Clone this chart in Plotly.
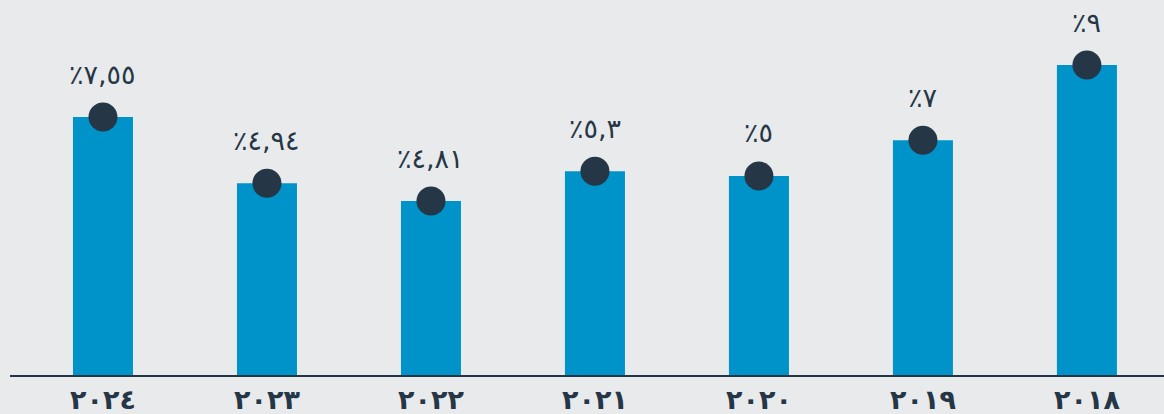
import plotly.graph_objects as go

years = ["2024", "2023", "2022", "2021", "2020", "2019", "2018"]
year_labels = ["٢٠٢٤", "٢٠٢٣", "٢٠٢٢", "٢٠٢١", "٢٠٢٠", "٢٠١٩", "٢٠١٨"]
value_labels = ["٪٧,٥٥", "٪٤,٩٤", "٪٤,٨١", "٪٥,٣", "٪٥", "٪٧", "٪٩"]
# bar heights as drawn in the reference (not proportional to the labels)
bar_heights = [7.49, 5.57, 5.05, 5.92, 5.78, 6.82, 9.0]

BAR = "#0093c9"
DARK = "#253746"
BG = "#e9eaec"
FONT = "DejaVu Sans"

fig = go.Figure()
fig.add_trace(go.Bar(
    x=years, y=bar_heights, marker=dict(color=BAR, line=dict(width=0)),
    width=0.366, hoverinfo="skip",
))
fig.add_trace(go.Scatter(
    x=years, y=bar_heights, mode="markers",
    marker=dict(size=29, color=DARK, line=dict(width=0)),
    hoverinfo="skip", cliponaxis=False,
))
for i, (y, t) in enumerate(zip(bar_heights, value_labels)):
    fig.add_annotation(x=i, y=y, xref="x", yref="y", text=t, showarrow=False,
                       yshift=43, yanchor="middle", xanchor="center",
                       font=dict(family=FONT, size=27, color=DARK))

fig.update_layout(
    width=1164, height=414,
    margin=dict(l=10, r=0, t=0, b=39),
    paper_bgcolor=BG, plot_bgcolor=BG,
    showlegend=False,
    xaxis=dict(
        type="category", categoryorder="array", categoryarray=years,
        tickvals=years, ticktext=year_labels,
        range=[-0.567, 6.47],
        showgrid=False, zeroline=False,
        showline=True, linecolor=DARK, linewidth=2,
        ticks="", ticklen=0,
        tickfont=dict(family=FONT, size=27, color=DARK, weight="bold"),
    ),
    yaxis=dict(range=[0, 10.89], visible=False, showgrid=False, zeroline=False),
)

fig.write_html("out.html")
